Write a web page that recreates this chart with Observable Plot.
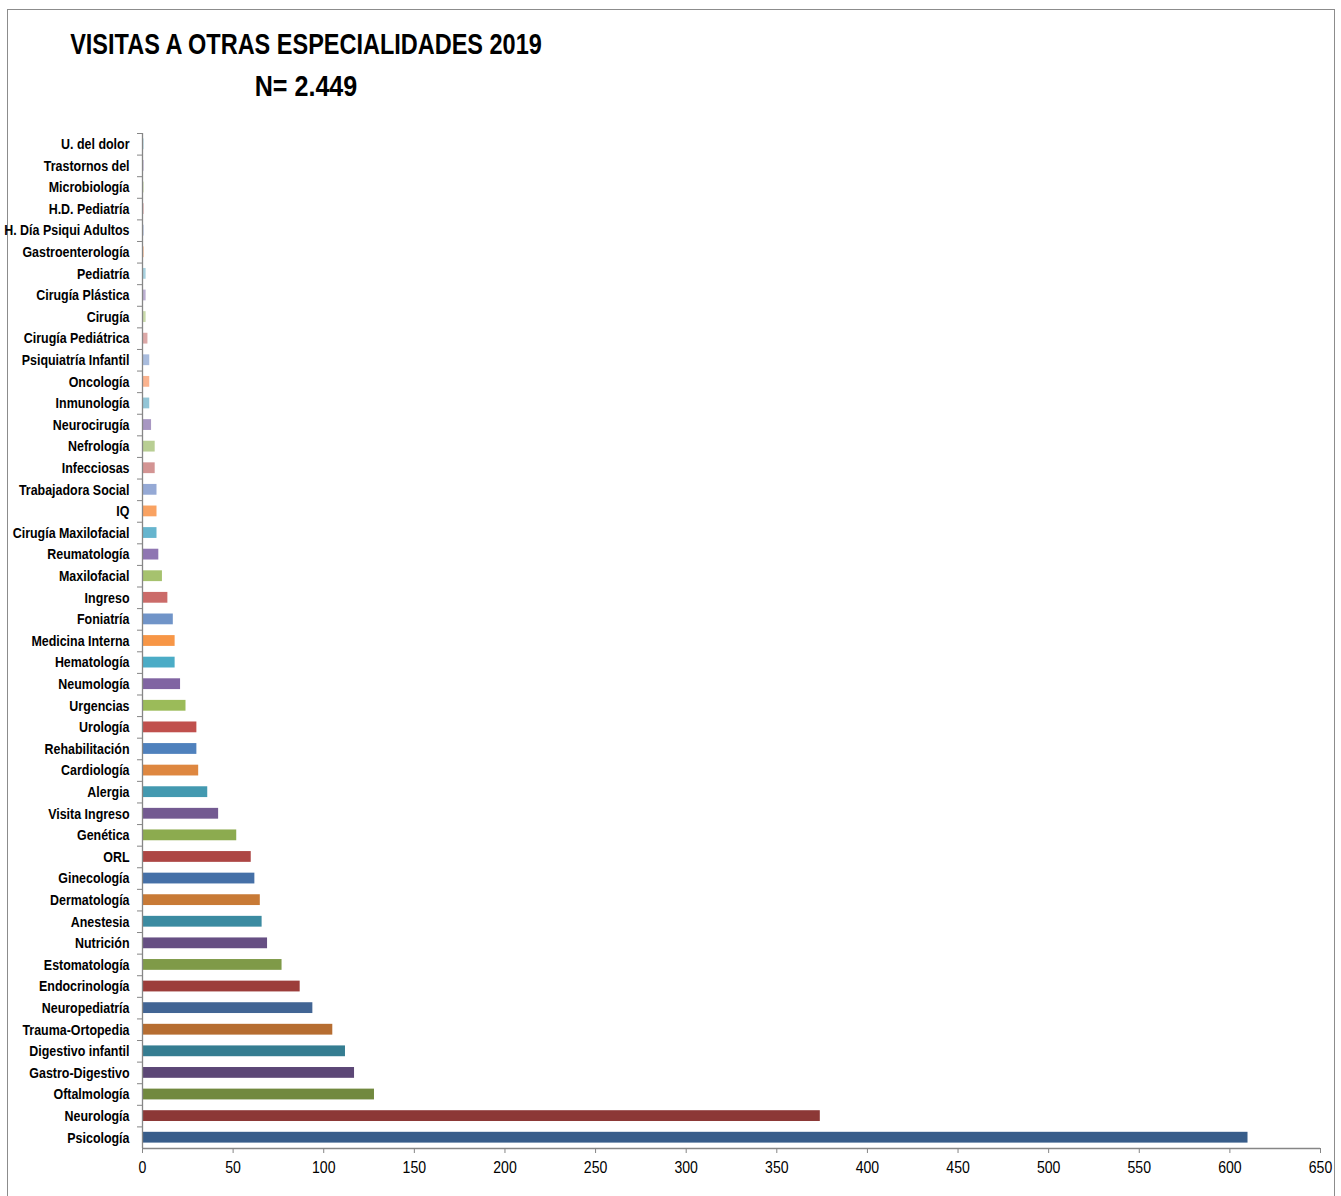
<!DOCTYPE html>
<html>
<head>
<meta charset="utf-8">
<script src="https://cdn.jsdelivr.net/npm/d3@7"></script>
<script src="https://cdn.jsdelivr.net/npm/@observablehq/plot@0.6"></script>
<style>
  html, body { margin: 0; padding: 0; background: #fff; overflow: hidden; }
  #page { position: relative; width: 1341px; height: 1196px; overflow: hidden; font-family: "Liberation Sans", Arial, sans-serif; }
  #border { position: absolute; left: 7px; top: 9px; width: 1328px; height: 1300px; border: 1px solid #8c8c8c; box-sizing: border-box; }
  .title { position: absolute; left: 0; width: 612px; text-align: center; font-weight: bold; color: #000; white-space: nowrap; transform-origin: 306px 50%; }
  #t1 { top: 27px; font-size: 30px; line-height: 34px; transform: scaleX(0.783); }
  #t2 { top: 69px; font-size: 30px; line-height: 34px; transform: scaleX(0.837); }
  #chart { position: absolute; left: 0; top: 110px; }
</style>
</head>
<body>
<div id="page">
  <div id="border"></div>
  <div class="title" id="t1">VISITAS A OTRAS ESPECIALIDADES 2019</div>
  <div class="title" id="t2">N= 2.449</div>
  <div id="chart"></div>
</div>
<script>
const categories = [
  "Psicología", "Neurología", "Oftalmología", "Gastro-Digestivo", "Digestivo infantil",
  "Trauma-Ortopedia", "Neuropediatría", "Endocrinología", "Estomatología", "Nutrición",
  "Anestesia", "Dermatología", "Ginecología", "ORL", "Genética",
  "Visita Ingreso", "Alergia", "Cardiología", "Rehabilitación", "Urología",
  "Urgencias", "Neumología", "Hematología", "Medicina Interna", "Foniatría",
  "Ingreso", "Maxilofacial", "Reumatología", "Cirugía Maxilofacial", "IQ",
  "Trabajadora Social", "Infecciosas", "Nefrología", "Neurocirugía", "Inmunología",
  "Oncología", "Psiquiatría Infantil", "Cirugía Pediátrica", "Cirugía", "Cirugía Plástica",
  "Pediatría", "Gastroenterología", "H. Día Psiqui Adultos", "H.D. Pediatría", "Microbiología",
  "Trastornos del", "U. del dolor"
];
const values = [
  610, 374, 128, 117, 112,
  105, 94, 87, 77, 69,
  66, 65, 62, 60, 52,
  42, 36, 31, 30, 30,
  24, 21, 18, 18, 17,
  14, 11, 9, 8, 8,
  8, 7, 7, 5, 4,
  4, 4, 3, 2, 2,
  2, 1, 1, 1, 1,
  1, 1
];
const palette = [
  "#385D8A", "#8C3836", "#71893F", "#5C4776", "#357D91",
  "#B66D31", "#426594", "#9C3D3A", "#7F9A48", "#664F83",
  "#3B8BA1", "#C87A36", "#4570A7", "#AD4644", "#8CAB4F",
  "#735A91", "#4399B0", "#DE8740", "#4F81BD", "#C0504D",
  "#9BBB59", "#8064A2", "#4BACC6", "#F79646", "#7094C8",
  "#CB6B69", "#A6C26E", "#8F76B2", "#66B5CE", "#F9A262",
  "#95A9D5", "#D39493", "#B8CE93", "#A897C2", "#93C5D6",
  "#FAB38F", "#A9BCDD", "#DCA8A7", "#C9DAAB", "#BDB0D2",
  "#A9D2E0", "#FBC6A6", "#C2CDE6", "#E6C0BF", "#D6E3C1",
  "#D0C6E0", "#C4E2EC"
];
const xTicks = [0, 50, 100, 150, 200, 250, 300, 350, 400, 450, 500, 550, 600, 650];

const data = categories.map((c, i) => ({category: c, value: values[i]}));

const W = 1341, H = 1086, MT = 23, MB = 48, ML = 142, MR = 21;
const step = (H - MT - MB) / categories.length;
const axisColor = "#868686";

const chart = Plot.plot({
  width: W,
  height: H,
  marginTop: MT,
  marginBottom: MB,
  marginLeft: ML,
  marginRight: MR,
  style: {fontFamily: '"Liberation Sans", Arial, sans-serif', background: "transparent", color: "#000"},
  x: {domain: [0, 650]},
  y: {domain: categories.slice().reverse(), paddingInner: 0.5, paddingOuter: 0.25, round: false},
  color: {domain: categories, range: palette},
  marks: [
    Plot.barX(data, {x: "value", y: "category", fill: "category"}),
    Plot.ruleX([0], {stroke: axisColor, strokeWidth: 1.3}),
    Plot.ruleY([categories[0]], {stroke: axisColor, strokeWidth: 1.3, dy: step / 2}),
    Plot.axisX({ticks: xTicks, tickSize: 5, tickPadding: 8, stroke: axisColor, fontSize: 16, label: null, tickFormat: d => String(d), ariaLabel: "x-axis"}),
    Plot.axisY({tickSize: 0, tickPadding: 13, fontSize: 15, fontWeight: "bold", label: null}),
    Plot.axisY({tickSize: 5, tickFormat: () => "", stroke: axisColor, dy: -step / 2, label: null})
  ]
});

function squeeze(selector, s) {
  chart.querySelectorAll(selector).forEach(el => {
    const t = el.getAttribute("transform") || "";
    const x = +el.getAttribute("x") || 0;
    const y = +el.getAttribute("y") || 0;
    el.setAttribute("transform", `${t} translate(${x},${y}) scale(${s},1) translate(${-x},${-y})`);
  });
}
squeeze('g[aria-label="y-axis tick label"] text', 0.83);
squeeze('g[aria-label="x-axis tick label"] text', 0.88);

document.getElementById("chart").appendChild(chart);
</script>
</body>
</html>
